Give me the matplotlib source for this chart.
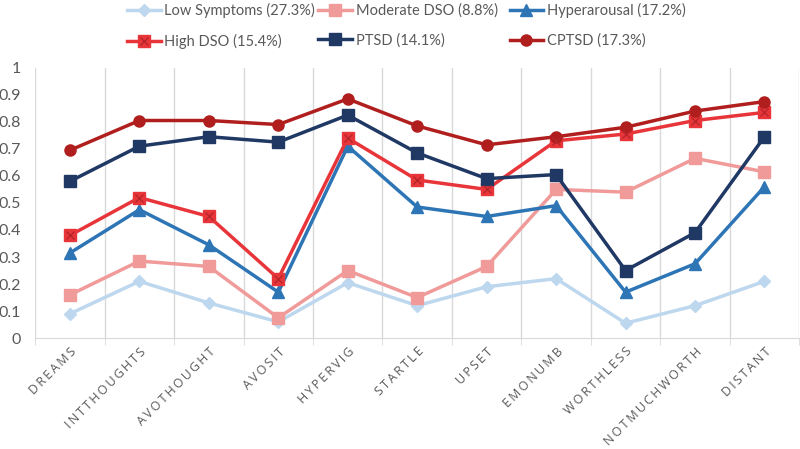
import numpy as np
import matplotlib.pyplot as plt
from matplotlib.ticker import FixedLocator

items = ['DREAMS', 'INTTHOUGHTS', 'AVOTHOUGHT', 'AVOSIT', 'HYPERVIG', 'STARTLE',
         'UPSET', 'EMONUMB', 'WORTHLESS', 'NOTMUCHWORTH', 'DISTANT']

low_symptoms = [0.09, 0.21, 0.13, 0.06, 0.205, 0.12, 0.19, 0.22, 0.055, 0.12, 0.21]
moderate_dso = [0.16, 0.285, 0.265, 0.075, 0.25, 0.15, 0.265, 0.55, 0.54, 0.665, 0.615]
hyperarousal = [0.315, 0.475, 0.345, 0.17, 0.71, 0.485, 0.45, 0.49, 0.17, 0.275, 0.56]
high_dso = [0.38, 0.52, 0.45, 0.22, 0.74, 0.585, 0.55, 0.73, 0.755, 0.805, 0.835]
ptsd = [0.58, 0.71, 0.745, 0.725, 0.825, 0.685, 0.59, 0.605, 0.25, 0.39, 0.745]
cptsd = [0.695, 0.805, 0.805, 0.79, 0.885, 0.785, 0.715, 0.745, 0.78, 0.84, 0.875]

plt.rcParams['font.family'] = ['Lato', 'DejaVu Sans']

fig = plt.figure(figsize=(8, 4.49), dpi=100)
ax = fig.add_axes([0.044, 0.247, 0.955, 0.602])

x = np.arange(len(items))

# series: (label, values, color, marker, size)
series = [
    ('Low Symptoms (27.3%)', low_symptoms, '#BDD7EE', 'D', 6),
    ('Moderate DSO (8.8%)', moderate_dso, '#F09A9A', 's', 8),
    ('Hyperarousal (17.2%)', hyperarousal, '#2E75B6', '^', 8),
    ('High DSO (15.4%)', high_dso, '#E8353A', 's', 8),
    ('PTSD (14.1%)', ptsd, '#1F3864', 's', 8),
    ('CPTSD (17.3%)', cptsd, '#B01E1E', 'o', 8),
]

handles = []
for label, vals, color, marker, ms in series:
    ln, = ax.plot(x, vals, color=color, marker=marker, markersize=ms, linewidth=2.5,
                  label=label)
    handles.append(ln)

# High DSO markers have a darker cross inside the square
xmark, = ax.plot(x, high_dso, linestyle='none', marker='x', markersize=5.5,
                 markeredgewidth=1.0, color='#B8262B')
handles[3] = (handles[3], xmark)

ax.set_xlim(-0.5, len(items) - 0.5)
ax.set_ylim(0, 1)
ax.set_yticks(np.arange(0, 1.01, 0.1))
ax.set_yticklabels(['0', '0.1', '0.2', '0.3', '0.4', '0.5', '0.6', '0.7', '0.8', '0.9', '1'])

# spaced-out category labels, like the original
spaced = ['\u2009'.join(s) for s in items]
ax.set_xticks(x)
ax.set_xticklabels(spaced, rotation=45, ha='right', rotation_mode='anchor',
                   fontsize=9, color='#595959',
                   family=['Open Sans', 'DejaVu Sans'])
ax.xaxis.set_minor_locator(FixedLocator(np.arange(-0.5, len(items), 1)))
ax.tick_params(axis='x', which='major', length=0, pad=5)
ax.tick_params(axis='x', which='minor', length=5, color='#D9D9D9')
ax.tick_params(axis='y', length=0, labelsize=11.5, labelcolor='#595959', pad=10)
ax.grid(axis='x', which='minor', color='#D9D9D9', linewidth=1)

for s in ['top', 'right', 'left']:
    ax.spines[s].set_visible(False)
ax.spines['bottom'].set_color('#D9D9D9')

# legend as three equal-width columns, two entries each
col_x = [0.148, 0.387, 0.626]
for c in range(3):
    idx = [c, c + 3]
    fig.legend([handles[i] for i in idx], [series[i][0] for i in idx],
               loc='upper left', bbox_to_anchor=(col_x[c], 1.012), frameon=False,
               fontsize=10.5, labelcolor='#595959', handlelength=2.3,
               handletextpad=0.25, labelspacing=1.05, borderaxespad=0.2)

fig.savefig('out.png', dpi=100)
